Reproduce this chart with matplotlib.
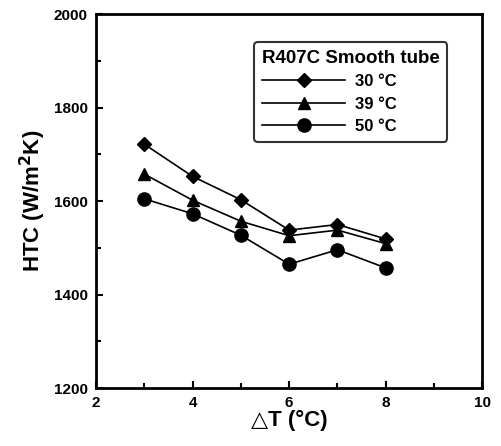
import matplotlib.pyplot as plt
from matplotlib.ticker import MultipleLocator

plt.rcParams['font.family'] = ['Liberation Sans', 'DejaVu Sans']
plt.rcParams['font.weight'] = 'bold'

dT = [3, 4, 5, 6, 7, 8]
htc_30 = [1722, 1653, 1603, 1538, 1550, 1519]
htc_39 = [1658, 1602, 1557, 1526, 1538, 1509]
htc_50 = [1605, 1573, 1527, 1465, 1496, 1457]
labels = ['30 °C', '39 °C', '50 °C']
markers = ['D', '^', 'o']

fig = plt.figure(figsize=(5.02, 4.46), dpi=100)
ax = fig.add_axes([0.191, 0.130, 0.770, 0.838])

for ys, m, lab in zip([htc_30, htc_39, htc_50], markers, labels):
    ms = 7 if m == 'D' else (9 if m == '^' else 9.5)
    ax.plot(dT, ys, color='black', lw=1.2, marker=m, markersize=ms, label=lab)

ax.set_xlim(2, 10)
ax.set_ylim(1200, 2000)
ax.xaxis.set_major_locator(MultipleLocator(2))
ax.xaxis.set_minor_locator(MultipleLocator(1))
ax.yaxis.set_major_locator(MultipleLocator(200))
ax.yaxis.set_minor_locator(MultipleLocator(100))
ax.tick_params(which='both', direction='in', top=False, right=False,
               labelsize=11, width=1.5, pad=6)
ax.tick_params(which='major', length=5)
ax.tick_params(which='minor', length=3.5)
for t in ax.get_xticklabels() + ax.get_yticklabels():
    t.set_fontweight('bold')
for s in ax.spines.values():
    s.set_linewidth(2)

ax.set_xlabel('△T (°C)', fontsize=16, fontweight='bold', labelpad=0)
ax.set_ylabel('HTC (W/m$^\\mathbf{2}$K)', fontsize=16, fontweight='bold', labelpad=4)

leg = ax.legend(title='R407C Smooth tube', loc='upper right',
                bbox_to_anchor=(0.909, 0.925), borderaxespad=0,
                fontsize=12, title_fontsize=13.5,
                frameon=True, fancybox=True, edgecolor='black',
                handlelength=5.0, handletextpad=0.6, borderpad=0.45,
                labelspacing=0.45, alignment='left')
leg.get_title().set_fontweight('bold')
leg.get_frame().set_linewidth(1.5)

fig.savefig('out.png', dpi=100)
